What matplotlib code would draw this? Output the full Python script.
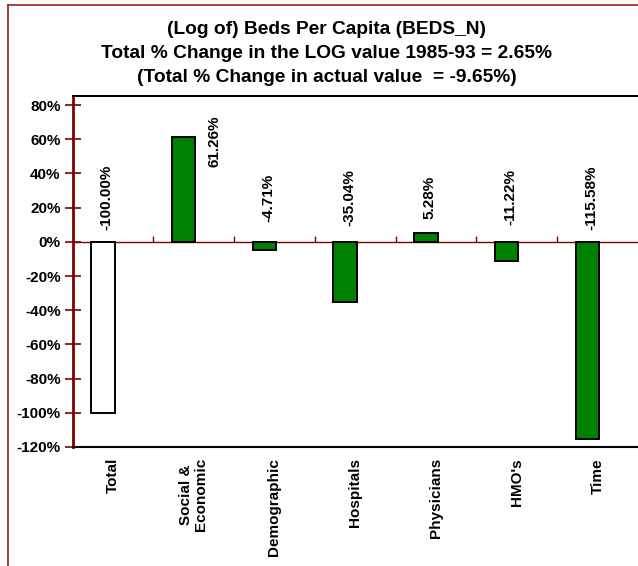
import matplotlib
matplotlib.use('Agg')
import matplotlib.pyplot as plt
from matplotlib.lines import Line2D

plt.rcParams['font.family'] = ['Liberation Sans', 'DejaVu Sans']
plt.rcParams['font.weight'] = 'bold'

# данные
categories = ['Total', 'Social &\nEconomic', 'Demographic', 'Hospitals',
              'Physicians', "HMO's", 'Time']
values = [-100.00, 61.26, -4.71, -35.04, 5.28, -11.22, -115.58]
bar_labels = ['-100.00%', '61.26%', '-4.71%', '-35.04%', '5.28%', '-11.22%', '-115.58%']
bar_colors = ['white', 'green', 'green', 'green', 'green', 'green', 'green']
yticks = [-120, -100, -80, -60, -40, -20, 0, 20, 40, 60, 80]
title_lines = ['(Log of) Beds Per Capita (BEDS_N)',
               'Total % Change in the LOG value 1985-93 = 2.65%',
               '(Total % Change in actual value  = -9.65%)']

dark_red = '#800000'
border_red = '#9b2020'

fig = plt.figure(figsize=(6.38, 5.66), dpi=100)
ax = fig.add_axes([72.5 / 638, 1 - 447 / 566, 1 - 72.5 / 638, (447 - 96) / 566])

# рамка диаграммы (слева и сверху)
fig.add_artist(Line2D([7.5 / 638, 7.5 / 638], [0, 1 - 4.5 / 566],
                      transform=fig.transFigure, color=border_red, lw=1.2))
fig.add_artist(Line2D([7.5 / 638, 1], [1 - 4.5 / 566, 1 - 4.5 / 566],
                      transform=fig.transFigure, color=border_red, lw=1.2))

x = list(range(len(categories)))
bar_x = [i - 0.125 for i in x]  # столбцы смещены влево от центра категории
ax.bar(bar_x, values, width=0.29, color=bar_colors, edgecolor='black',
       linewidth=1.4, zorder=3)

# подписи значений
for i, (v, lab) in enumerate(zip(values, bar_labels)):
    if v > 50:
        ax.text(bar_x[i] + 0.38, 59, lab, rotation=90, ha='center', va='center',
                fontsize=11, fontweight='bold')
    else:
        ax.text(bar_x[i] + 0.05, 26, lab, rotation=90, ha='center', va='center',
                fontsize=11, fontweight='bold')

# линия нуля и засечки на ней
ax.axhline(0, color=dark_red, lw=1, zorder=2)
ax.vlines([i + 0.5 for i in x[:-1]], 0, 3.3, color=dark_red, lw=1, zorder=2)

ax.set_xlim(-0.5, len(categories) - 0.5)
ax.set_ylim(-120, 85.3)
ax.set_yticks(yticks)
ax.set_yticklabels(['%d%%' % t for t in yticks], fontsize=11, fontweight='bold')
ax.tick_params(axis='y', direction='inout', length=11, width=1.2,
               color=dark_red, pad=3)
ax.set_xticks(x)
ax.set_xticklabels(categories, rotation=90, fontsize=11, fontweight='bold',
                   va='top', ha='center', linespacing=1.1)
ax.tick_params(axis='x', length=0, pad=8)

for s in ['top', 'bottom']:
    ax.spines[s].set_color('black')
    ax.spines[s].set_linewidth(1.5)
ax.spines['left'].set_color(dark_red)
ax.spines['left'].set_linewidth(2)
ax.spines['right'].set_visible(False)

# заголовок
for k, line in enumerate(title_lines):
    fig.text(327 / 638, 1 - (30 + 23.5 * k) / 566, line, ha='center', va='center',
             fontsize=13.8, fontweight='bold')

fig.savefig('out.png', dpi=100)
